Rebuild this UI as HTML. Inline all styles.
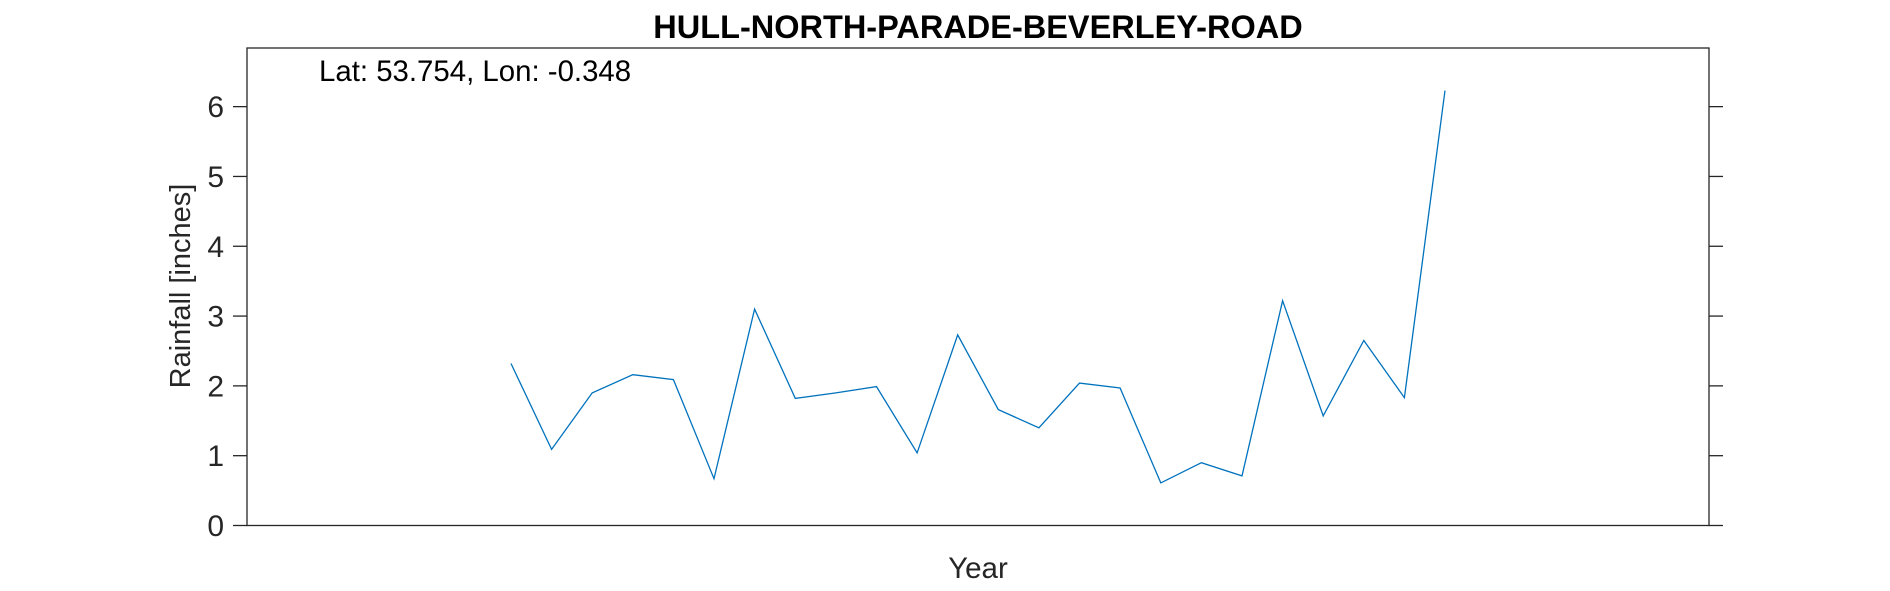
<!DOCTYPE html>
<html><head><meta charset="utf-8"><style>
html,body{margin:0;padding:0;background:#fff;}
svg{display:block;font-family:"Liberation Sans",Arial,sans-serif;}
</style></head><body>
<svg id="chart" width="1890" height="591" viewBox="0 0 1890 591">
<text x="978" y="38" text-anchor="middle" font-size="32.5" font-weight="bold" fill="#000">HULL-NORTH-PARADE-BEVERLEY-ROAD</text>
<rect x="247" y="48" width="1462" height="477.5" fill="none" stroke="#262626" stroke-width="1.3"/>
<g id="yticks"></g>
<text x="319" y="81" font-size="29.4" fill="#000">Lat: 53.754, Lon: -0.348</text>
<text transform="translate(190,286) rotate(-90)" text-anchor="middle" font-size="29" fill="#262626">Rainfall [inches]</text>
<text x="978" y="578" text-anchor="middle" font-size="29.5" fill="#262626">Year</text>
<polyline id="series" fill="none" stroke="#0072BD" stroke-width="1.3"/>
</svg>
<script>
const years = [1990,1991,1992,1993,1994,1995,1996,1997,1998,1999,2000,2001,2002,2003,2004,2005,2006,2007,2008,2009,2010,2011,2012,2013];
const rainfall = [2.32,1.09,1.90,2.16,2.09,0.67,3.10,1.82,1.90,1.99,1.04,2.73,1.66,1.40,2.04,1.97,0.61,0.90,0.71,3.22,1.57,2.65,1.83,6.23];
const yTicks = [0,1,2,3,4,5,6];

const X0=247,X1=1709,Y0=525.5,Y1=48;
const xMin=years[0]-6.5,xMax=years[years.length-1]+6.5;
const yMin=0,yMax=6.84;
function xs(v){return X0+(v-xMin)/(xMax-xMin)*(X1-X0);}
function ys(v){return Y0-(v-yMin)/(yMax-yMin)*(Y0-Y1);}
const NS="http://www.w3.org/2000/svg";
const g=document.getElementById('yticks');
yTicks.forEach(t=>{
  const y=ys(t);
  const l=document.createElementNS(NS,'line');
  l.setAttribute('x1',X0-14);l.setAttribute('x2',X0);l.setAttribute('y1',y);l.setAttribute('y2',y);
  l.setAttribute('stroke','#262626');l.setAttribute('stroke-width','1.3');
  
  
  g.appendChild(l);
  const r=document.createElementNS(NS,'line');
  r.setAttribute('x1',X1);r.setAttribute('x2',X1+14);r.setAttribute('y1',y);r.setAttribute('y2',y);
  r.setAttribute('stroke','#262626');r.setAttribute('stroke-width','1.3');
  
  
  g.appendChild(r);
  const tx=document.createElementNS(NS,'text');
  tx.setAttribute('x',X0-23);tx.setAttribute('y',y+10.5);
  tx.setAttribute('text-anchor','end');tx.setAttribute('font-size','30');tx.setAttribute('fill','#262626');
  tx.textContent=t;
  
  
  g.appendChild(tx);
});
document.getElementById('series').setAttribute('points',years.map((yr,i)=>xs(yr).toFixed(1)+','+ys(rainfall[i]).toFixed(1)).join(' '));
</script>
</body></html>
